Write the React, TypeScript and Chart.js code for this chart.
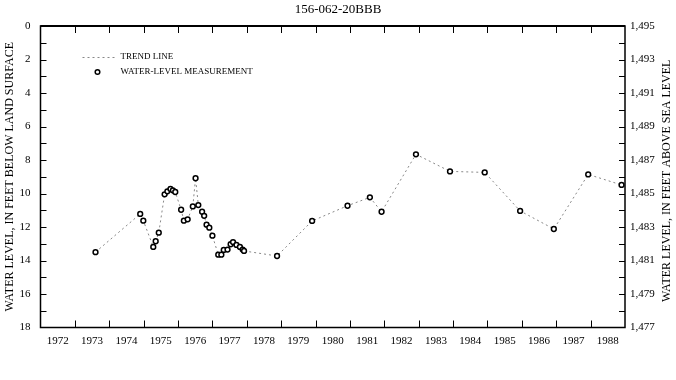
import React, { useEffect, useRef } from "react";
import { Chart, registerables } from "chart.js";

Chart.register(...registerables);

const TITLE = "156-062-20BBB";
const LEFT_TITLE = "WATER LEVEL, IN FEET BELOW LAND SURFACE";
const RIGHT_TITLE = "WATER LEVEL, IN FEET ABOVE SEA LEVEL";
const LAND_SURFACE = 1495;

const years = [1972, 1973, 1974, 1975, 1976, 1977, 1978, 1979, 1980, 1981, 1982, 1983, 1984, 1985, 1986, 1987, 1988];
const depthTicks = [0, 2, 4, 6, 8, 10, 12, 14, 16, 18];
const elevTicks = [1477, 1479, 1481, 1483, 1485, 1487, 1489, 1491, 1493, 1495];

const dates = [
  1973.6, 1974.9, 1974.99, 1975.28, 1975.35, 1975.44, 1975.61, 1975.69, 1975.78, 1975.85,
  1975.92, 1976.09, 1976.17, 1976.28, 1976.43, 1976.51, 1976.59, 1976.7, 1976.76, 1976.83,
  1976.91, 1977.0, 1977.17, 1977.26, 1977.33, 1977.44, 1977.53, 1977.6, 1977.7, 1977.8,
  1977.88, 1977.92, 1978.88, 1979.9, 1980.93, 1981.58, 1981.92, 1982.92, 1983.91, 1984.92,
  1985.95, 1986.93, 1987.93, 1988.9,
];
const depths = [
  13.5, 11.22, 11.62, 13.19, 12.85, 12.34, 10.05, 9.87, 9.73, 9.81,
  9.91, 10.97, 11.62, 11.54, 10.77, 9.09, 10.69, 11.09, 11.33, 11.86,
  12.04, 12.52, 13.65, 13.65, 13.37, 13.35, 13.03, 12.9, 13.07, 13.19,
  13.35, 13.43, 13.73, 11.64, 10.73, 10.23, 11.09, 7.66, 8.68, 8.74,
  11.04, 12.12, 8.86, 9.49,
];

const SERIF = "'Liberation Serif', 'Times New Roman', serif";

const framePlugin = {
  id: "frame",
  afterDraw(chart: any) {
    const { ctx, chartArea: a, scales } = chart;
    const xs = scales.x;
    const ys = scales.y;
    ctx.save();
    ctx.strokeStyle = "#000";
    // ticks
    ctx.lineWidth = 1;
    ctx.beginPath();
    for (let yr = 1973; yr <= 1988; yr++) {
      const px = Math.round(xs.getPixelForValue(yr)) + 0.5;
      ctx.moveTo(px, a.top);
      ctx.lineTo(px, a.top + 7);
      ctx.moveTo(px, a.bottom);
      ctx.lineTo(px, a.bottom - 7);
    }
    for (let d = 1; d < 18; d++) {
      const py = Math.round(ys.getPixelForValue(d)) + 0.5;
      ctx.moveTo(a.left, py);
      ctx.lineTo(a.left + 6, py);
      ctx.moveTo(a.right, py);
      ctx.lineTo(a.right - 6, py);
    }
    ctx.stroke();
    // frame
    ctx.lineWidth = 1.5;
    ctx.strokeRect(a.left, a.top, a.right - a.left, a.bottom - a.top);
    ctx.lineWidth = 2;
    ctx.beginPath();
    ctx.moveTo(a.left, a.top);
    ctx.lineTo(a.right, a.top);
    ctx.stroke();

    // legend
    const lx = a.left + 42;
    const ly1 = a.top + 31;
    const ly2 = a.top + 46;
    ctx.strokeStyle = "#888";
    ctx.lineWidth = 1;
    ctx.setLineDash([2, 3]);
    ctx.beginPath();
    ctx.moveTo(lx, ly1 + 0.5);
    ctx.lineTo(lx + 34, ly1 + 0.5);
    ctx.stroke();
    ctx.setLineDash([]);
    ctx.fillStyle = "#fff";
    ctx.strokeStyle = "#000";
    ctx.lineWidth = 1.5;
    ctx.beginPath();
    ctx.arc(lx + 15, ly2, 2.3, 0, Math.PI * 2);
    ctx.fill();
    ctx.stroke();
    ctx.fillStyle = "#000";
    ctx.font = `9px ${SERIF}`;
    ctx.textBaseline = "middle";
    ctx.textAlign = "left";
    ctx.fillText("TREND LINE", lx + 38, ly1);
    ctx.fillText("WATER-LEVEL MEASUREMENT", lx + 38, ly2);

    // right axis title (reads bottom to top)
    ctx.font = `12px ${SERIF}`;
    ctx.textAlign = "center";
    ctx.translate(chart.width - 9, (a.top + a.bottom) / 2 + 4);
    ctx.rotate(-Math.PI / 2);
    ctx.fillText(RIGHT_TITLE, 0, 0);
    ctx.restore();
  },
};

export default function App() {
  const ref = useRef<HTMLCanvasElement | null>(null);
  useEffect(() => {
    if (!ref.current) return;
    const points = dates.map((d, i) => ({ x: d, y: depths[i] }));
    const chart = new Chart(ref.current, {
      type: "line",
      data: {
        datasets: [
          {
            label: "WATER-LEVEL MEASUREMENT",
            data: points,
            borderColor: "#888",
            borderWidth: 1,
            borderDash: [2, 3],
            tension: 0,
            pointRadius: 2.4,
            pointBorderWidth: 1.5,
            pointBorderColor: "#000",
            pointBackgroundColor: "#fff",
            fill: false,
          },
        ],
      },
      options: {
        animation: false,
        responsive: false,
        maintainAspectRatio: false,
        layout: { padding: 0 },
        plugins: {
          legend: { display: false },
          tooltip: { enabled: false },
          title: {
            display: true,
            text: TITLE,
            color: "#000",
            font: { family: SERIF, size: 13, weight: "normal", lineHeight: 1.2 },
            padding: { top: 2, bottom: 8.4 },
          },
        },
        scales: {
          x: {
            type: "linear",
            min: 1972,
            max: 1989,
            grid: { display: false, drawTicks: false },
            border: { display: false },
            afterBuildTicks: (s: any) => {
              s.ticks = years.map((y) => ({ value: y + 0.5 }));
            },
            afterFit: (s: any) => {
              s.height = 52.5;
            },
            ticks: {
              autoSkip: false,
              maxRotation: 0,
              padding: 7,
              color: "#000",
              font: { family: SERIF, size: 11 },
              callback: (v: any) => String(Math.floor(Number(v))),
            },
          },
          y: {
            type: "linear",
            position: "left",
            reverse: true,
            min: 0,
            max: 18,
            grid: { display: false, drawTicks: false },
            border: { display: false },
            afterBuildTicks: (s: any) => {
              s.ticks = depthTicks.map((v) => ({ value: v }));
            },
            afterFit: (s: any) => {
              s.width = 40.5;
            },
            ticks: {
              padding: 10,
              color: "#000",
              font: { family: SERIF, size: 11 },
              callback: (v: any) => String(v),
            },
            title: {
              display: true,
              text: LEFT_TITLE,
              color: "#000",
              font: { family: SERIF, size: 12 },
              padding: { top: 3, bottom: 0 },
            },
          },
          y2: {
            type: "linear",
            position: "right",
            min: LAND_SURFACE - 18,
            max: LAND_SURFACE,
            grid: { display: false, drawTicks: false },
            border: { display: false },
            afterBuildTicks: (s: any) => {
              s.ticks = elevTicks.map((v) => ({ value: v }));
            },
            afterFit: (s: any) => {
              s.width = 51;
            },
            ticks: {
              padding: 5,
              color: "#000",
              font: { family: SERIF, size: 11 },
              callback: (v: any) => Number(v).toLocaleString("en-US"),
            },
          },
        },
      },
      plugins: [framePlugin],
    } as any);
    return () => chart.destroy();
  }, []);
  return (
    <div style={{ position: "fixed", left: 0, top: 0, width: 676, height: 380, background: "#fff" }}>
      <canvas ref={ref} width={676} height={380} style={{ display: "block" }} />
    </div>
  );
}
